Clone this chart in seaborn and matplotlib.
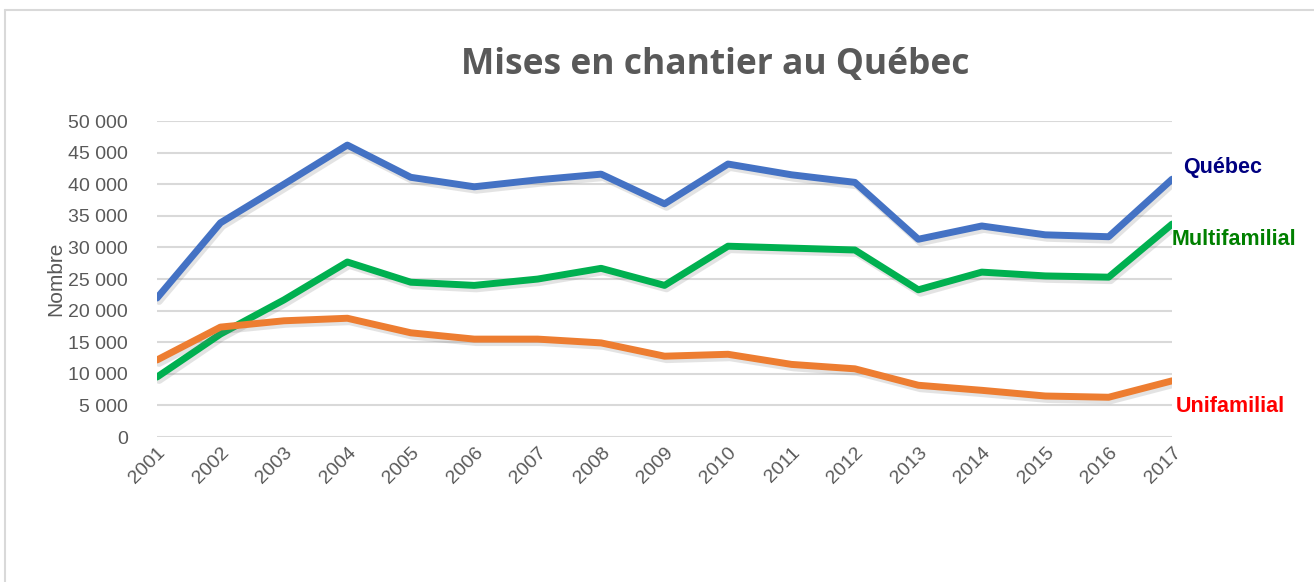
import numpy as np
import pandas as pd
import matplotlib
matplotlib.use("Agg")
import matplotlib.pyplot as plt
import matplotlib.patheffects as pe
from matplotlib import font_manager
from matplotlib.ticker import FuncFormatter
import seaborn as sns

years = list(range(2001, 2018))
quebec = [22000, 33900, 40000, 46200, 41100, 39600, 40700, 41600, 36900,
          43200, 41500, 40300, 31300, 33400, 32000, 31700, 40800]
multifamilial = [9500, 16300, 21700, 27700, 24500, 24000, 25000, 26700, 24000,
                 30200, 29900, 29600, 23300, 26100, 25500, 25300, 33700]
unifamilial = [12200, 17400, 18400, 18800, 16500, 15500, 15500, 14900, 12800,
               13100, 11500, 10800, 8200, 7400, 6500, 6300, 8900]

series_names = ["Québec", "Multifamilial", "Unifamilial"]
line_colors = ["#4472C4", "#00B050", "#ED7D31"]
label_colors = ["#000080", "#008000", "#FF0000"]

df = pd.DataFrame({"Année": years, "Québec": quebec,
                   "Multifamilial": multifamilial, "Unifamilial": unifamilial})
long_df = df.melt(id_vars="Année", var_name="Série", value_name="Nombre")

sns.set_style("white")
installed = {f.name for f in font_manager.fontManager.ttflist}
narrow = "Liberation Sans Narrow" in installed
base_font = "Liberation Sans Narrow" if narrow else "Liberation Sans"
plt.rcParams["font.family"] = [base_font, "DejaVu Sans"]
tick_size = 16.5 if narrow else 14
lab_size = 18.5 if narrow else 15.5

fig = plt.figure(figsize=(13.14, 5.82), dpi=100)
ax = fig.add_axes([0.1195, 0.249, 0.7725, 0.543])

sns.lineplot(data=long_df, x="Année", y="Nombre", hue="Série",
             hue_order=series_names, palette=line_colors, linewidth=5,
             ax=ax, legend=False, zorder=3)
for line in ax.get_lines():
    line.set_solid_capstyle("round")
    line.set_solid_joinstyle("round")
    line.set_path_effects([pe.SimpleLineShadow(offset=(1.5, -2.5), shadow_color="#777777", alpha=0.2),
                           pe.Normal()])

ax.set_xlim(2001, 2017)
ax.set_ylim(0, 50000)
ax.set_yticks(range(0, 50001, 5000))
ax.yaxis.set_major_formatter(FuncFormatter(lambda v, p: f"{int(v):,}".replace(",", " ")))
ax.set_xticks(years)
ax.set_xticklabels([str(y) for y in years], rotation=45, ha="right",
                   rotation_mode="anchor")
ax.tick_params(axis="both", labelsize=tick_size, colors="#595959", length=0)
ax.tick_params(axis="y", pad=21)
ax.tick_params(axis="x", pad=5)
ax.grid(axis="y", color="#D9D9D9", linewidth=1.5)
ax.set_axisbelow(True)
for s in ax.spines.values():
    s.set_visible(False)
ax.set_xlabel("")
ax.set_ylabel("Nombre", fontsize=15, color="#595959", labelpad=2)

fig.text(0.544, 0.888, "Mises en chantier au Québec", ha="center", va="center",
         fontsize=25.5, fontweight="bold", color="#595959", family="Open Sans")

# étiquettes de fin de série
label_pos = {"Québec": (2017.17, 42700), "Multifamilial": (2017.0, 31200),
             "Unifamilial": (2017.05, 4900)}
for name, col in zip(series_names, label_colors):
    x, y = label_pos[name]
    ax.text(x, y, name, color=col, fontsize=lab_size, fontweight="bold",
            ha="left", va="center", clip_on=False)

# cadre du graphique
fig.add_artist(plt.Line2D([5 / 1314, 1], [1 - 10 / 582] * 2, color="#D9D9D9", lw=1.5))
fig.add_artist(plt.Line2D([5 / 1314] * 2, [0, 1 - 10 / 582], color="#D9D9D9", lw=1.5))

fig.savefig("out.png", dpi=100)
